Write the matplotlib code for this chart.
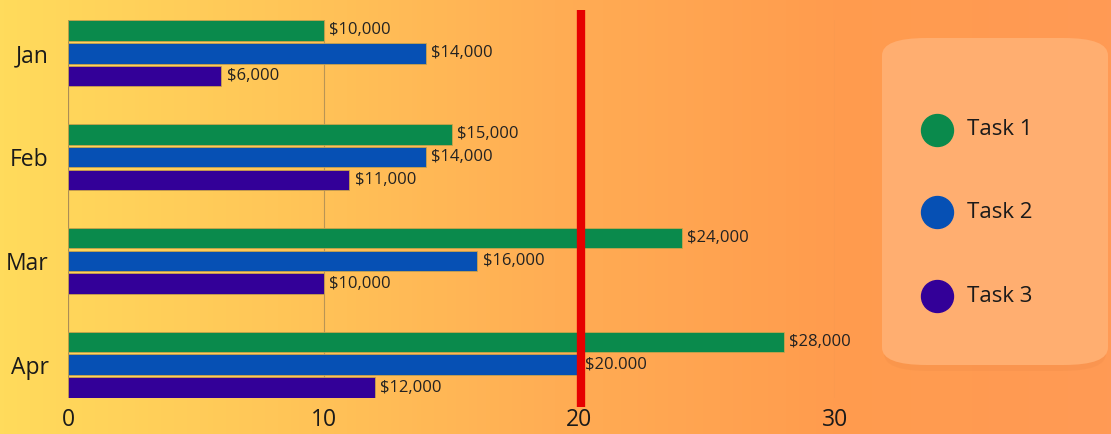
import numpy as np
import matplotlib.pyplot as plt
from matplotlib.patches import FancyBboxPatch
from matplotlib.colors import LinearSegmentedColormap

months = ['Jan', 'Feb', 'Mar', 'Apr']
task1 = [10, 15, 24, 28]
task2 = [14, 14, 16, 20]
task3 = [6, 11, 10, 12]
labels1 = ['$10,000', '$15,000', '$24,000', '$28,000']
labels2 = ['$14,000', '$14,000', '$16,000', '$20.000']
labels3 = ['$6,000', '$11,000', '$10,000', '$12,000']
series_names = ['Task 1', 'Task 2', 'Task 3']
colors = ['#0a8a4c', '#0650b4', '#330098']
target = 20

plt.rcParams['font.family'] = ['Open Sans', 'DejaVu Sans']

fig = plt.figure(figsize=(11.11, 4.34), dpi=100)

# gradient background
bg = fig.add_axes([0, 0, 1, 1], zorder=-10)
cmap = LinearSegmentedColormap.from_list('bg', ['#ffdb5c', '#ffc658', '#ffad54', '#ff9c4e', '#ff9a55'])
bg.imshow(np.linspace(0, 1, 256).reshape(1, -1), aspect='auto', cmap=cmap, extent=[0, 1, 0, 1])
bg.axis('off')

ax = fig.add_axes([68 / 1111, 1 - 398 / 434, (835 - 68) / 1111, (398 - 20) / 434])
ax.set_facecolor('none')

y = np.arange(len(months))
step = 0.22
h = 0.2
for i, (vals, labs) in enumerate([(task1, labels1), (task2, labels2), (task3, labels3)]):
    bars = ax.barh(y + (i - 1) * step, vals, height=h, color=colors[i],
                   edgecolor='#c9a24a', linewidth=0.6, zorder=3)
    ax.bar_label(bars, labels=labs, padding=4, fontsize=12, color='#222222', clip_on=False)

ax.set_xlim(0, 30)
ax.set_ylim(len(months) - 1 + step + h / 2, -step - h / 2)
ax.set_xticks([0, 10, 20, 30])
ax.set_yticks(y)
ax.set_yticklabels(months)
ax.tick_params(axis='both', length=0, labelsize=16.5, colors='#1a1a1a')
ax.tick_params(axis='y', pad=14)
ax.tick_params(axis='x', pad=7)
for s in ax.spines.values():
    s.set_visible(False)
ax.grid(axis='x', color='#a88a55', linewidth=0.8, alpha=0.8, zorder=0)
ax.axvline(0, color='#a88a55', linewidth=0.8, alpha=0.8, zorder=1)
ax.axvline(target + 0.05, ymin=-0.024, ymax=1.026, color='#e60000', linewidth=6,
           solid_capstyle='butt', zorder=5, clip_on=False)

# legend box
shadow = FancyBboxPatch((884 / 1111, 1 - 371 / 434), 222 / 1111, 322 / 434,
                        boxstyle='round,pad=0,rounding_size=0.04', transform=fig.transFigure,
                        facecolor='#d9783a', edgecolor='none', alpha=0.12, zorder=1)
box = FancyBboxPatch((882 / 1111, 1 - 365 / 434), 226 / 1111, 327 / 434,
                     boxstyle='round,pad=0,rounding_size=0.04', transform=fig.transFigure,
                     facecolor='#ffae70', edgecolor='none', zorder=2)
fig.patches.extend([shadow, box])
for name, c, yy in zip(series_names, colors, [130, 212, 296]):
    fig.lines.append(plt.Line2D([937 / 1111], [1 - yy / 434], marker='o', markersize=23,
                                color=c, linestyle='none', transform=fig.transFigure, zorder=3))
    fig.text(967 / 1111, 1 - yy / 434, name, fontsize=16, color='#1a1a1a', va='center', zorder=4)

fig.savefig('out.png', dpi=100)
